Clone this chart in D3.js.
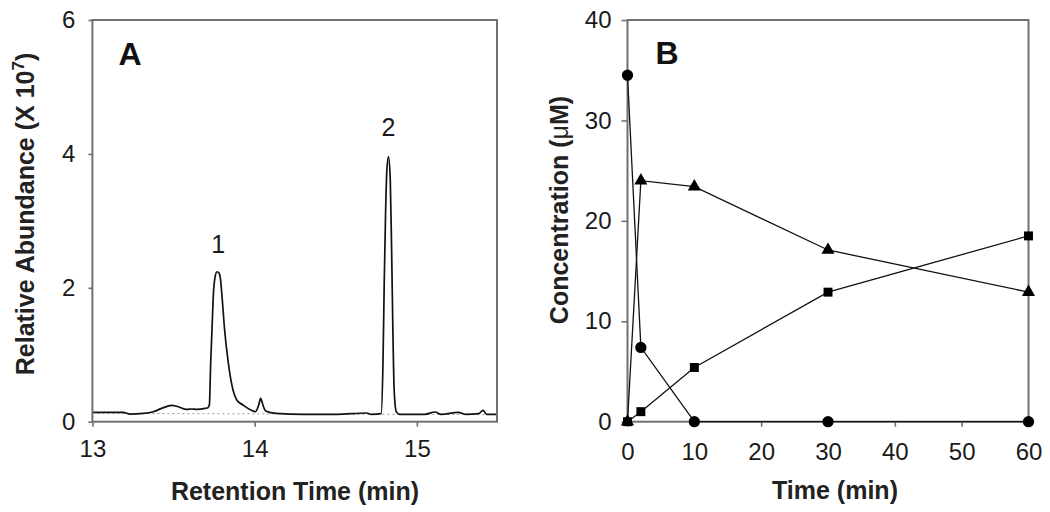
<!DOCTYPE html>
<html>
<head>
<meta charset="utf-8">
<script src="https://cdn.jsdelivr.net/npm/d3@7"></script>
<style>
  html, body { margin: 0; padding: 0; background: #fff; }
  svg { display: block; font-family: "Liberation Sans", Arial, sans-serif; }
</style>
</head>
<body>
<svg id="chart" width="1050" height="512"></svg>
<script>
// ---------- Panel A data: chromatogram (retention time, abundance x1e7) ----------
const chromTime = [13.00, 13.016, 13.108, 13.19, 13.232, 13.314, 13.375, 13.427, 13.489, 13.529,
  13.581, 13.612, 13.643, 13.694, 13.712, 13.721, 13.729, 13.737, 13.745, 13.756,
  13.768, 13.780, 13.789, 13.799, 13.815, 13.838, 13.867, 13.891, 13.928, 13.979,
  14.006, 14.025, 14.037, 14.051, 14.068, 14.133, 14.30, 14.50, 14.69, 14.72,
  14.780, 14.791, 14.799, 14.807, 14.815, 14.825, 14.836, 14.844, 14.852, 14.860,
  14.873, 14.893, 15.05, 15.111, 15.15, 15.254, 15.30, 15.38, 15.408, 15.43, 15.495];
const chromAbund = [0.14, 0.139, 0.139, 0.139, 0.114, 0.124, 0.149, 0.199, 0.244, 0.224,
  0.184, 0.19, 0.184, 0.199, 0.21, 0.25, 0.87, 1.37, 1.87, 2.16,
  2.24, 2.22, 2.14, 1.87, 1.37, 0.87, 0.47, 0.32, 0.25, 0.17,
  0.15, 0.25, 0.35, 0.25, 0.16, 0.124, 0.11, 0.11, 0.13, 0.11,
  0.12, 0.87, 2.11, 3.11, 3.76, 3.96, 3.61, 2.61, 1.37, 0.47,
  0.15, 0.11, 0.11, 0.145, 0.11, 0.14, 0.11, 0.12, 0.17, 0.11, 0.11];
const baselineTime = [13.0, 15.5];
const baselineAbund = [0.125, 0.105];
const peakLabels = ["1", "2"];
const peakTimes = [13.775, 14.825];
const peakLabelAbund = [2.52, 4.27];
const xTicksA = [13, 14, 15];
const yTicksA = [0, 2, 4, 6];

// ---------- Panel B data: concentration vs time ----------
const timeMin = [0, 2, 10, 30, 60];
const circleConc = [34.5, 7.4, 0, 0, 0];
const triangleConc = [0, 24.0, 23.4, 17.1, 12.9];
const squareConc = [0, 1.0, 5.4, 12.9, 18.5];
const xTicksB = [0, 10, 20, 30, 40, 50, 60];
const yTicksB = [0, 10, 20, 30, 40];

const svg = d3.select("#chart");
const frameColor = "#707070";
const fmt = d3.format("d");

// ================= Panel A =================
const A = { left: 92.4, right: 498, top: 20, bottom: 421.7 };
const xA = d3.scaleLinear().domain([13, 15.5]).range([A.left, A.right]);
const yA = d3.scaleLinear().domain([0, 6]).range([A.bottom, A.top]);

const gA = svg.append("g");

// dotted baseline
gA.append("path")
  .datum(baselineTime.map((t, i) => [t, baselineAbund[i]]))
  .attr("fill", "none")
  .attr("stroke", "#9a9a9a")
  .attr("stroke-width", 1)
  .attr("stroke-dasharray", "2,3")
  .attr("d", d3.line().x(d => xA(d[0])).y(d => yA(d[1])));

// chromatogram
gA.append("path")
  .datum(chromTime.map((t, i) => [t, chromAbund[i]]))
  .attr("fill", "none")
  .attr("stroke", "#111")
  .attr("stroke-width", 1.7)
  .attr("stroke-linejoin", "round")
  .attr("d", d3.line().curve(d3.curveMonotoneX).x(d => xA(d[0])).y(d => yA(d[1])));

// axes
const axLA = gA.append("g").attr("transform", `translate(${A.left},0)`)
  .call(d3.axisLeft(yA).tickValues(yTicksA).tickFormat(fmt).tickSize(4).tickSizeOuter(0).tickPadding(13));
const axBA = gA.append("g").attr("transform", `translate(0,${A.bottom})`)
  .call(d3.axisBottom(xA).tickValues(xTicksA).tickFormat(fmt).tickSize(5).tickSizeOuter(0).tickPadding(13));
[axLA, axBA].forEach(ax => {
  ax.attr("font-size", 24).attr("font-family", "'Liberation Sans', Arial, sans-serif");
  ax.select(".domain").remove();
  ax.selectAll("line").attr("stroke", frameColor).attr("stroke-width", 1.6);
  ax.selectAll("text").attr("font-size", 24).attr("fill", "#1a1a1a");
});
gA.append("rect")
  .attr("x", A.left).attr("y", A.top)
  .attr("width", A.right - A.left - 1).attr("height", A.bottom - A.top)
  .attr("fill", "none").attr("stroke", frameColor).attr("stroke-width", 2);

// peak labels
gA.selectAll(".peaklab").data(peakLabels).enter().append("text")
  .attr("x", (d, i) => xA(peakTimes[i]))
  .attr("y", (d, i) => yA(peakLabelAbund[i]))
  .attr("text-anchor", "middle")
  .attr("font-size", 25)
  .attr("fill", "#1a1a1a")
  .text(d => d);

// panel letter
gA.append("text").attr("x", 130).attr("y", 65).attr("text-anchor", "middle")
  .attr("font-size", 32).attr("font-weight", "bold").attr("fill", "#111").text("A");

// axis titles
gA.append("text").attr("x", 295).attr("y", 500).attr("text-anchor", "middle")
  .attr("font-size", 25).attr("font-weight", "bold").attr("fill", "#222")
  .text("Retention Time (min)");
const ylabA = gA.append("text")
  .attr("transform", "translate(34,214) rotate(-90)")
  .attr("text-anchor", "middle")
  .attr("font-size", 25).attr("font-weight", "bold").attr("fill", "#222");
ylabA.append("tspan").text("Relative Abundance (X 10");
ylabA.append("tspan").attr("dy", -10).attr("font-size", 17).text("7");
ylabA.append("tspan").attr("dy", 10).text(")");

// ================= Panel B =================
const B = { left: 627.5, right: 1028.5, top: 20, bottom: 421.7 };
const xB = d3.scaleLinear().domain([0, 60]).range([B.left, B.right]);
const yB = d3.scaleLinear().domain([0, 40]).range([B.bottom, B.top]);

const gB = svg.append("g");

const axLB = gB.append("g").attr("transform", `translate(${B.left},0)`)
  .call(d3.axisLeft(yB).tickValues(yTicksB).tickFormat(fmt).tickSize(6).tickSizeOuter(0).tickPadding(10));
const axBB = gB.append("g").attr("transform", `translate(0,${B.bottom})`)
  .call(d3.axisBottom(xB).tickValues(xTicksB).tickFormat(fmt).tickSize(5).tickSizeOuter(0).tickPadding(16));
[axLB, axBB].forEach(ax => {
  ax.attr("font-size", 24).attr("font-family", "'Liberation Sans', Arial, sans-serif");
  ax.select(".domain").remove();
  ax.selectAll("line").attr("stroke", frameColor).attr("stroke-width", 1.6);
  ax.selectAll("text").attr("font-size", 24).attr("fill", "#1a1a1a");
});
gB.append("rect")
  .attr("x", B.left).attr("y", B.top)
  .attr("width", B.right - B.left).attr("height", B.bottom - B.top)
  .attr("fill", "none").attr("stroke", frameColor).attr("stroke-width", 2);

const lineB = d3.line().x(d => xB(d[0])).y(d => yB(d[1]));
const seriesB = [
  { vals: triangleConc, shape: d3.symbolTriangle, size: 75 },
  { vals: squareConc, shape: d3.symbolSquare, size: 80 },
  { vals: circleConc, shape: d3.symbolCircle, size: 100 }
];
seriesB.forEach(s => {
  gB.append("path")
    .datum(timeMin.map((t, i) => [t, s.vals[i]]))
    .attr("fill", "none").attr("stroke", "#111").attr("stroke-width", 1.3)
    .attr("d", lineB);
});
[seriesB[0], seriesB[2], seriesB[1]].forEach(s => {
  gB.selectAll(null).data(timeMin.map((t, i) => [t, s.vals[i]])).enter().append("path")
    .attr("transform", d => `translate(${xB(d[0])},${yB(d[1])})`)
    .attr("d", d3.symbol().type(s.shape).size(s.size))
    .attr("fill", "#000");
});

gB.append("text").attr("x", 667).attr("y", 63.5).attr("text-anchor", "middle")
  .attr("font-size", 32).attr("font-weight", "bold").attr("fill", "#111").text("B");

gB.append("text").attr("x", 835).attr("y", 499).attr("text-anchor", "middle")
  .attr("font-size", 25).attr("font-weight", "bold").attr("fill", "#222")
  .text("Time (min)");
const ylabB = gB.append("text")
  .attr("transform", "translate(568,210) rotate(-90)")
  .attr("text-anchor", "middle")
  .attr("font-size", 25).attr("font-weight", "bold").attr("fill", "#222");
ylabB.append("tspan").text("Concentration (");
ylabB.append("tspan").attr("font-weight", "normal").text("μ");
ylabB.append("tspan").text("M)");
</script>
</body>
</html>
